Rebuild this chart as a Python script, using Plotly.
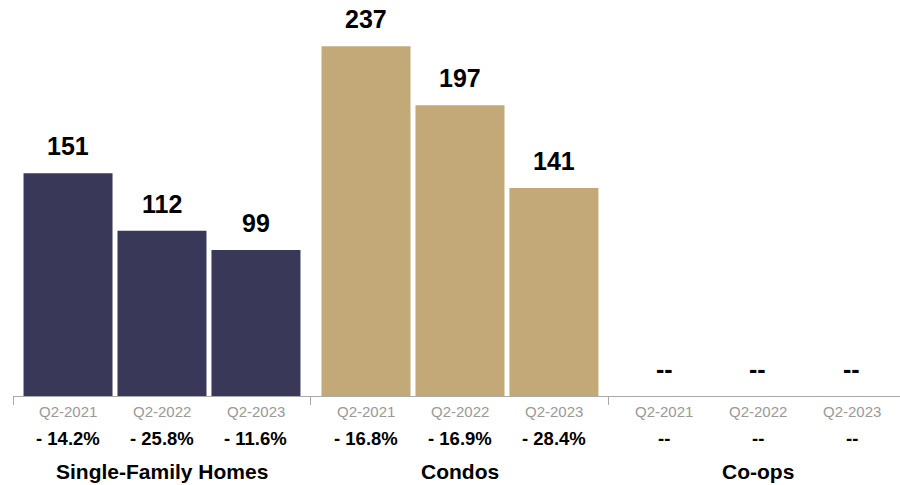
import plotly.graph_objects as go

# Data
groups = ["Single-Family Homes", "Condos", "Co-ops"]
quarters = ["Q2-2021", "Q2-2022", "Q2-2023"]
sfh_values = [151, 112, 99]
condo_values = [237, 197, 141]
coop_values = [None, None, None]
sfh_changes = ["- 14.2%", "- 25.8%", "- 11.6%"]
condo_changes = ["- 16.8%", "- 16.9%", "- 28.4%"]
coop_changes = ["--", "--", "--"]

colors = ["#3a3859", "#c3a878", "#c3a878"]
FONT = "Liberation Sans, Arial, Helvetica, sans-serif"

series = [sfh_values, condo_values, coop_values]
changes = [sfh_changes, condo_changes, coop_changes]

# each group spans 3 x-units; bars sit 0.946 apart inside it
step = 0.946
bar_w = 0.896

fig = go.Figure()
annotations = []
for g, (vals, chg) in enumerate(zip(series, changes)):
    xs = [g * 3 + 1.5 + (i - 1) * step for i in range(3)]
    yv = [v if v is not None else 0 for v in vals]
    fig.add_trace(go.Bar(
        x=xs, y=yv, width=bar_w,
        marker=dict(color=colors[g], line=dict(width=0)),
        hoverinfo="skip", showlegend=False,
    ))
    for i, x in enumerate(xs):
        v = vals[i]
        annotations.append(dict(
            x=x, y=(v if v is not None else 0), xref="x", yref="y",
            text=(f"<b>{v}</b>" if v is not None else "<b>--</b>"),
            showarrow=False, yanchor="middle", yshift=27,
            font=dict(family=FONT, size=25, color="#000000"),
        ))
        annotations.append(dict(
            x=x, y=0, xref="x", yref="paper",
            text=quarters[i], showarrow=False, yanchor="middle", yshift=-15,
            font=dict(family=FONT, size=15, color="#999999"),
        ))
        annotations.append(dict(
            x=x, y=0, xref="x", yref="paper",
            text=f"<b>{chg[i]}</b>", showarrow=False, yanchor="middle", yshift=-42,
            font=dict(family=FONT, size=18.5, color="#000000"),
        ))
    annotations.append(dict(
        x=g * 3 + 1.5, y=0, xref="x", yref="paper",
        text=f"<b>{groups[g]}</b>", showarrow=False, yanchor="middle", yshift=-75,
        font=dict(family=FONT, size=21, color="#000000"),
    ))

fig.update_layout(
    width=900, height=485,
    margin=dict(l=13, r=0, t=0, b=89),
    paper_bgcolor="white", plot_bgcolor="white",
    barmode="overlay",
    annotations=annotations,
    xaxis=dict(
        range=[0, 8.93], showgrid=False, zeroline=False,
        showline=True, linecolor="#aaaaaa", linewidth=1,
        tickmode="array", tickvals=[0, 3, 6], ticks="outside",
        ticklen=8, tickcolor="#aaaaaa", tickwidth=1,
        showticklabels=False, fixedrange=True,
    ),
    yaxis=dict(
        range=[0, 268.4], showgrid=False, zeroline=False,
        showline=False, showticklabels=False, fixedrange=True,
    ),
)

fig.write_html("out.html", config={"displayModeBar": False})
